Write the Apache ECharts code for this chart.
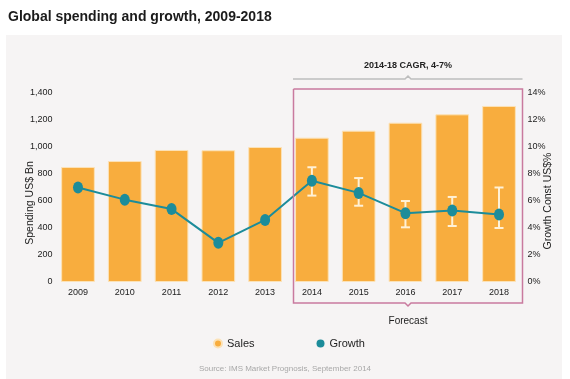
<!DOCTYPE html>
<html>
<head>
<meta charset="utf-8">
<script src="https://cdn.jsdelivr.net/npm/echarts@6/dist/echarts.min.js"></script>
<style>
html,body{margin:0;padding:0;background:#fff;}
#c{width:570px;height:379px;}
</style>
</head>
<body>
<div id="c"></div>
<script>
const years = ['2009','2010','2011','2012','2013','2014','2015','2016','2017','2018'];
const sales = [852, 896, 978, 976, 1000, 1069, 1121, 1180, 1242, 1304];
const growth = [7.0, 6.1, 5.4, 2.9, 4.6, 7.5, 6.6, 5.1, 5.3, 5.0];
const growthLow = [null, null, null, null, null, 6.4, 5.65, 4.05, 4.15, 4.0];
const growthHigh = [null, null, null, null, null, 8.5, 7.7, 6.0, 6.3, 7.0];
const leftTicks = [0, 200, 400, 600, 800, 1000, 1200, 1400];
const rightTicks = [0, 2, 4, 6, 8, 10, 12, 14];

const FONT = '"Liberation Sans", "DejaVu Sans", sans-serif';
const errData = [];
years.forEach((y, i) => { if (growthLow[i] != null) errData.push([i, growthLow[i], growthHigh[i]]); });

const chart = echarts.init(document.getElementById('c'), null, {renderer: 'canvas'});
chart.setOption({
  backgroundColor: '#fff',
  animation: false,
  textStyle: {fontFamily: FONT},
  title: {
    text: 'Global spending and growth, 2009-2018',
    left: 3, top: 5,
    textStyle: {fontFamily: FONT, fontSize: 14, fontWeight: 'bold', color: '#1b1b1b'}
  },
  legend: {
    data: ['Sales', 'Growth'],
    left: 208, top: 333,
    icon: 'circle', itemWidth: 8, itemHeight: 8, itemGap: 62,
    textStyle: {fontFamily: FONT, fontSize: 11, color: '#222'}
  },
  grid: {left: 54.6, right: 47.6, top: 93, bottom: 97, containLabel: false},
  xAxis: {
    type: 'category', data: years,
    axisLine: {show: false}, axisTick: {show: false},
    axisLabel: {margin: 6, fontSize: 9, color: '#222', fontFamily: FONT}
  },
  yAxis: [
    {
      type: 'value', min: leftTicks[0], max: leftTicks[leftTicks.length - 1], interval: 200,
      splitLine: {show: false}, axisLine: {show: false}, axisTick: {show: false},
      axisLabel: {margin: 2, fontSize: 9, color: '#222', fontFamily: FONT,
        formatter: v => v.toLocaleString('en-US')}
    },
    {
      type: 'value', min: rightTicks[0], max: rightTicks[rightTicks.length - 1], interval: 2,
      splitLine: {show: false}, axisLine: {show: false}, axisTick: {show: false},
      axisLabel: {margin: 5, fontSize: 9, color: '#222', fontFamily: FONT, formatter: '{value}%'}
    }
  ],
  series: [
    {
      name: 'Sales', type: 'bar', data: sales, barWidth: '72%',
      itemStyle: {color: '#F8AD3E', borderColor: '#FCE2B6', borderWidth: 1},
      z: 2
    },
    {
      name: 'Errors', type: 'custom', yAxisIndex: 1, data: errData, z: 3,
      renderItem: function (params, api) {
        const x = api.value(0);
        const lo = api.coord([x, api.value(1)]);
        const hi = api.coord([x, api.value(2)]);
        const w = 4.5;
        const st = {stroke: '#FFF1D6', lineWidth: 2};
        return {
          type: 'group',
          children: [
            {type: 'line', shape: {x1: lo[0], y1: lo[1], x2: hi[0], y2: hi[1]}, style: st},
            {type: 'line', shape: {x1: lo[0] - w, y1: lo[1], x2: lo[0] + w, y2: lo[1]}, style: st},
            {type: 'line', shape: {x1: hi[0] - w, y1: hi[1], x2: hi[0] + w, y2: hi[1]}, style: st}
          ]
        };
      }
    },
    {
      name: 'Growth', type: 'line', yAxisIndex: 1, data: growth, z: 4,
      symbol: 'circle', symbolSize: [10, 12], showSymbol: true,
      lineStyle: {color: '#1C8C9A', width: 2},
      itemStyle: {color: '#1C8C9A'}
    }
  ],
  graphic: [
    {type: 'rect', z: -10, silent: true, shape: {x: 6, y: 35, width: 556, height: 344}, style: {fill: '#F6F4F4'}},
    {type: 'polyline', z: 10, silent: true,
      shape: {points: [[293, 79], [405, 79], [408, 76], [411, 79], [522.5, 79]]},
      style: {stroke: '#BDBDBD', lineWidth: 1.5, fill: null}},
    {type: 'text', z: 10, silent: true, x: 408, y: 66,
      style: {text: '2014-18 CAGR, 4-7%', align: 'center', verticalAlign: 'middle',
        font: 'bold 9px ' + FONT, fill: '#222'}},
    {type: 'polyline', z: 10, silent: true,
      shape: {points: [[293.5, 89], [522.5, 89], [522.5, 303], [411, 303], [408, 306], [405, 303], [293.5, 303], [293.5, 89]]},
      style: {stroke: '#C97A9E', lineWidth: 1.5, fill: null}},
    {type: 'text', z: 10, silent: true, x: 408, y: 321,
      style: {text: 'Forecast', align: 'center', verticalAlign: 'middle', font: '10px ' + FONT, fill: '#222'}},
    {type: 'text', z: 10, silent: true, x: 30, y: 203, rotation: Math.PI / 2,
      style: {text: 'Spending US$ Bn', align: 'center', verticalAlign: 'middle', font: '10.5px ' + FONT, fill: '#222'}},
    {type: 'text', z: 10, silent: true, x: 548, y: 201, rotation: Math.PI / 2,
      style: {text: 'Growth Const US$%', align: 'center', verticalAlign: 'middle', font: '10.5px ' + FONT, fill: '#222'}},
    {type: 'text', z: 10, silent: true, x: 285, y: 369,
      style: {text: 'Source: IMS Market Prognosis, September 2014', align: 'center', verticalAlign: 'middle',
        font: '8px ' + FONT, fill: '#A8A8A8'}}
  ]
});
</script>
</body>
</html>
